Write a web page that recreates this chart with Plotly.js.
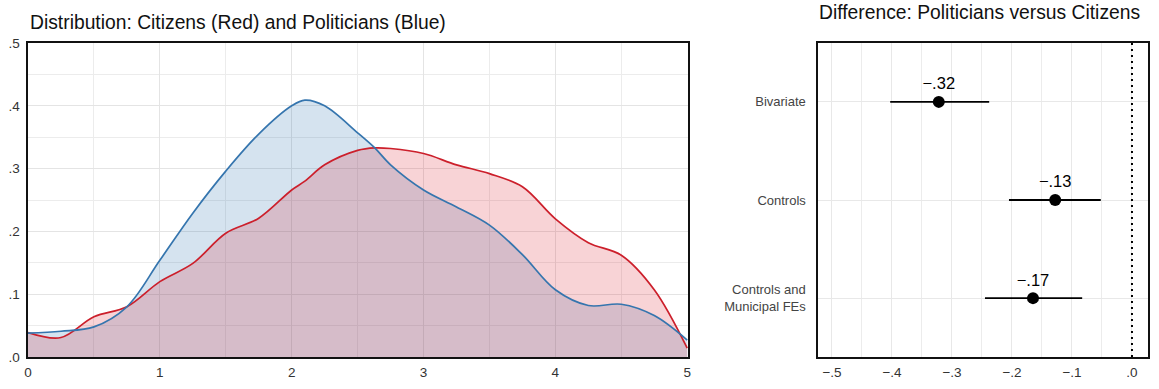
<!DOCTYPE html>
<html>
<head>
<meta charset="utf-8">
<script src="https://cdn.plot.ly/plotly-3.0.1.min.js"></script>
<style>html,body{margin:0;padding:0;background:#fff;}#chart{width:1159px;height:389px;}</style>
</head>
<body>
<div id="chart"></div>
<script>
// ---- Density data (left panel) ----
const gridX = [0, 0.25, 0.5, 0.75, 1.0, 1.25, 1.5, 1.75, 2.0, 2.1, 2.25, 2.5, 2.63, 2.75, 3.0, 3.25, 3.5, 3.75, 4.0, 4.25, 4.5, 4.75, 5.0];
const politiciansDensity = [0.038, 0.041, 0.048, 0.080, 0.154, 0.229, 0.296, 0.355, 0.400, 0.409, 0.400, 0.357, 0.333, 0.306, 0.266, 0.239, 0.210, 0.163, 0.107, 0.082, 0.084, 0.066, 0.027];
const citizensDensity = [0.039, 0.031, 0.064, 0.080, 0.120, 0.149, 0.197, 0.221, 0.266, 0.280, 0.306, 0.329, 0.333, 0.332, 0.324, 0.306, 0.292, 0.271, 0.220, 0.182, 0.162, 0.107, 0.014];
const leftYTickVals = [0, 0.1, 0.2, 0.3, 0.4, 0.5];
const leftYTickText = ['.0', '.1', '.2', '.3', '.4', '.5'];
const leftXTickVals = [0, 1, 2, 3, 4, 5];
const leftXTickText = ['0', '1', '2', '3', '4', '5'];

// ---- Coefficient data (right panel) ----
const models = ['Bivariate', 'Controls', 'Controls and<br>Municipal FEs'];
const modelPos = [3, 2, 1];
const estimates = [-0.322, -0.128, -0.165];
const ciLower = [-0.403, -0.205, -0.245];
const ciUpper = [-0.238, -0.052, -0.083];
const estimateLabels = ['\u2212.32', '\u2212.13', '\u2212.17'];
const rightXTickVals = [-0.5, -0.4, -0.3, -0.2, -0.1, 0];
const rightXTickText = ['\u2212.5', '\u2212.4', '\u2212.3', '\u2212.2', '\u2212.1', '.0'];

const W = 1159, H = 389;
const px = v => v / W;
const py = v => (H - v) / H;

const FONT = 'Liberation Sans, Arial, Helvetica, sans-serif';
const tickFont = {family: FONT, size: 13.5, color: '#333'};

const fillTrace = (y, fc) => ({x: gridX, y: y, type: 'scatter', mode: 'lines', fill: 'tozeroy',
  fillcolor: fc, line: {color: 'rgba(0,0,0,0)', width: 0, shape: 'spline', smoothing: 1},
  xaxis: 'x', yaxis: 'y', hoverinfo: 'skip'});
const lineTrace = (y, lc) => ({x: gridX, y: y, type: 'scatter', mode: 'lines',
  line: {color: lc, width: 1.7, shape: 'spline', smoothing: 1},
  xaxis: 'x', yaxis: 'y', hoverinfo: 'skip'});

const traces = [
  fillTrace(politiciansDensity, 'rgba(45,115,175,0.2)'),
  fillTrace(citizensDensity, 'rgba(220,35,50,0.2)'),
  lineTrace(citizensDensity, '#cc1f2b'),
  lineTrace(politiciansDensity, '#3575ae'),
  {x: [0, 0], y: [0.4, 3.6], type: 'scatter', mode: 'lines',
   line: {color: '#000', width: 2, dash: '2px,4px'}, xaxis: 'x2', yaxis: 'y2', hoverinfo: 'skip'},
  {x: estimates, y: modelPos, type: 'scatter', mode: 'markers+text',
   text: estimateLabels, textposition: 'top center',
   textfont: {family: FONT, size: 16.5, color: '#000'},
   marker: {color: '#000', size: 12},
   error_x: {type: 'data', symmetric: false,
     array: estimates.map((e, i) => ciUpper[i] - e),
     arrayminus: estimates.map((e, i) => e - ciLower[i]),
     color: '#000', thickness: 1.8, width: 0},
   xaxis: 'x2', yaxis: 'y2', hoverinfo: 'skip', cliponaxis: false}
];

const layout = {
  width: W, height: H,
  margin: {l: 0, r: 0, t: 0, b: 0},
  paper_bgcolor: '#fff', plot_bgcolor: '#fff',
  showlegend: false,
  xaxis: {domain: [px(28), px(688)], range: [0, 5.006], tickvals: leftXTickVals, ticktext: leftXTickText,
    showgrid: true, gridcolor: '#e4e4e4', gridwidth: 1,
    minor: {dtick: 0.5, showgrid: true, gridcolor: '#ececec', gridwidth: 1},
    showline: true, linecolor: '#111', linewidth: 1.6, mirror: true, zeroline: false,
    ticks: '', ticklabelstandoff: 2, tickfont: tickFont, fixedrange: true, anchor: 'y'},
  yaxis: {domain: [py(357), py(43)], range: [0, 0.5], tickvals: leftYTickVals, ticktext: leftYTickText,
    showgrid: true, gridcolor: '#e4e4e4', gridwidth: 1,
    minor: {dtick: 0.05, showgrid: true, gridcolor: '#ececec', gridwidth: 1},
    showline: true, linecolor: '#111', linewidth: 1.6, mirror: true, zeroline: false,
    ticks: '', ticklabelstandoff: 4, tickfont: tickFont, fixedrange: true, anchor: 'x'},
  xaxis2: {domain: [px(818), px(1148)], range: [-0.5233, 0.0267], tickvals: rightXTickVals, ticktext: rightXTickText,
    showgrid: true, gridcolor: '#e8e8e8', gridwidth: 1,
    minor: {dtick: 0.05, showgrid: true, gridcolor: '#ececec', gridwidth: 1},
    showline: true, linecolor: '#111', linewidth: 1.6, mirror: true, zeroline: false,
    ticks: '', ticklabelstandoff: 2, tickfont: tickFont, fixedrange: true, anchor: 'y2'},
  yaxis2: {domain: [py(357), py(43)], range: [0.4, 3.6], tickvals: modelPos, ticktext: models,
    showgrid: true, gridcolor: '#e8e8e8', gridwidth: 1,
    showline: true, linecolor: '#111', linewidth: 1.6, mirror: true, zeroline: false,
    ticks: '', ticklabelstandoff: 8, tickfont: {family: FONT, size: 13, color: '#444'}, fixedrange: true, anchor: 'x2'},
  annotations: [
    {text: 'Distribution: Citizens (Red) and Politicians (Blue)', x: px(28), y: py(22), xref: 'paper', yref: 'paper',
     xanchor: 'left', yanchor: 'middle', showarrow: false, font: {family: FONT, size: 19.3, color: '#111'}},
    {text: 'Difference: Politicians versus Citizens', x: px(817), y: py(13), xref: 'paper', yref: 'paper',
     xanchor: 'left', yanchor: 'middle', showarrow: false, font: {family: FONT, size: 19.3, color: '#111'}}
  ]
};

Plotly.newPlot('chart', traces, layout, {displayModeBar: false, staticPlot: true});
</script>
</body>
</html>
